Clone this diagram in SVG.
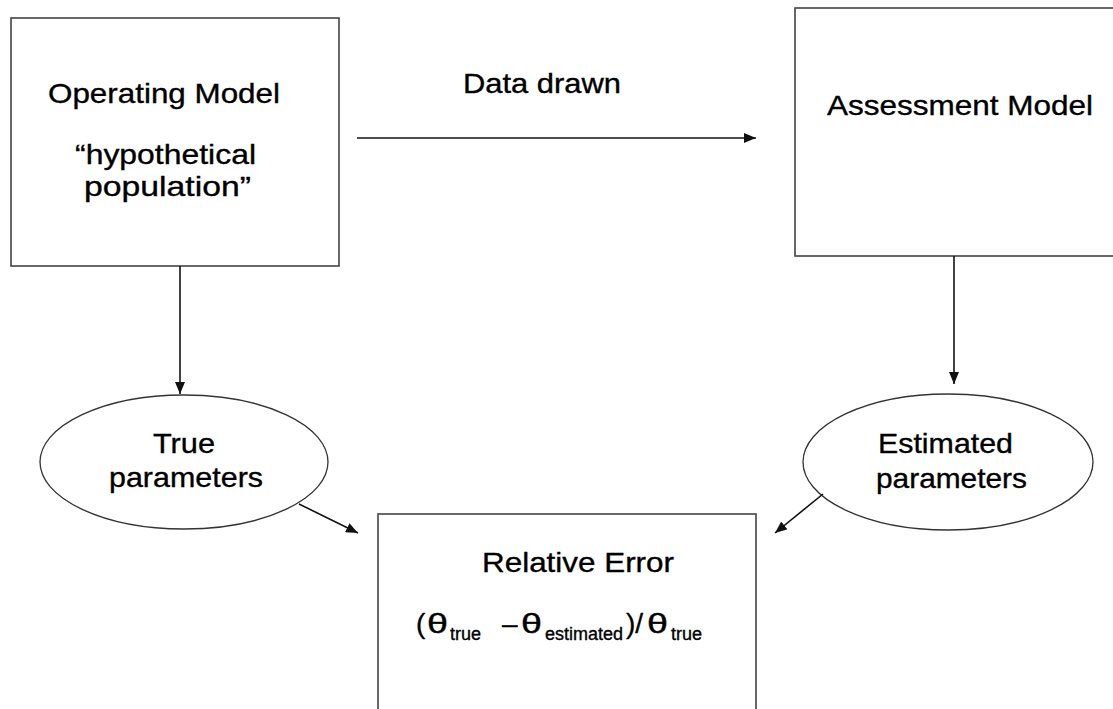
<svg xmlns="http://www.w3.org/2000/svg" width="1113" height="709" viewBox="0 0 1113 709">
<defs>
<style>
.box{fill:#fff;stroke:#444;stroke-width:1.6}
.ell{fill:#fff;stroke:#333;stroke-width:1.3}
.lbl{font-family:"Liberation Sans",Arial,sans-serif;font-size:28px;fill:#000;stroke:#000;stroke-width:0.35}
.sub{font-size:18px}
.con{stroke:#111;stroke-width:1.6;fill:none;marker-end:url(#ah)}
</style>
<marker id="ah" viewBox="0 0 12 10" refX="12" refY="5" markerWidth="12" markerHeight="10" markerUnits="userSpaceOnUse" orient="auto">
<path d="M0,0 L12,5 L0,10 z" fill="#111"/>
</marker>
</defs>
<rect width="1113" height="709" fill="#fff"/>
<g id="operating-model">
<rect class="box" x="11" y="18" width="328" height="248"/>
<text class="lbl" x="48" y="103" textLength="232" lengthAdjust="spacingAndGlyphs">Operating Model</text>
<text class="lbl" x="75" y="164" textLength="181" lengthAdjust="spacingAndGlyphs">“hypothetical</text>
<text class="lbl" x="84" y="196" textLength="167" lengthAdjust="spacingAndGlyphs">population”</text>
</g>
<g id="assessment-model">
<rect class="box" x="795" y="8" width="330" height="248"/>
<text class="lbl" x="827" y="115" textLength="266" lengthAdjust="spacingAndGlyphs">Assessment Model</text>
</g>
<g id="true-parameters">
<ellipse class="ell" cx="184" cy="462" rx="144" ry="67"/>
<text class="lbl" x="153" y="453" textLength="62" lengthAdjust="spacingAndGlyphs">True</text>
<text class="lbl" x="109" y="487" textLength="154" lengthAdjust="spacingAndGlyphs">parameters</text>
</g>
<g id="estimated-parameters">
<ellipse class="ell" cx="948" cy="462" rx="145" ry="68"/>
<text class="lbl" x="878" y="453" textLength="135" lengthAdjust="spacingAndGlyphs">Estimated</text>
<text class="lbl" x="876" y="488" textLength="151" lengthAdjust="spacingAndGlyphs">parameters</text>
</g>
<g id="relative-error">
<rect class="box" x="378" y="514" width="378" height="220"/>
<text class="lbl" x="482" y="572" textLength="192" lengthAdjust="spacingAndGlyphs">Relative Error</text>
<text class="lbl" y="633"><tspan x="416">(</tspan><tspan x="427" textLength="21" lengthAdjust="spacingAndGlyphs">θ</tspan><tspan class="sub" x="450" dy="7">true</tspan><tspan x="502" dy="-7">–</tspan><tspan x="521" textLength="21" lengthAdjust="spacingAndGlyphs">θ</tspan><tspan class="sub" x="545" dy="7">estimated</tspan><tspan x="626" dy="-7">)/</tspan><tspan x="647" textLength="21" lengthAdjust="spacingAndGlyphs">θ</tspan><tspan class="sub" x="671" dy="7">true</tspan></text>
</g>
<g id="connectors">
<line class="con" x1="357" y1="138" x2="756" y2="138"/>
<text class="lbl" x="463" y="93" textLength="158" lengthAdjust="spacingAndGlyphs">Data drawn</text>
<line class="con" x1="180" y1="266" x2="180" y2="394"/>
<line class="con" x1="954" y1="256" x2="954" y2="384"/>
<line class="con" x1="299" y1="504" x2="358" y2="533"/>
<line class="con" x1="823" y1="494" x2="775" y2="533"/>
</g>
</svg>
